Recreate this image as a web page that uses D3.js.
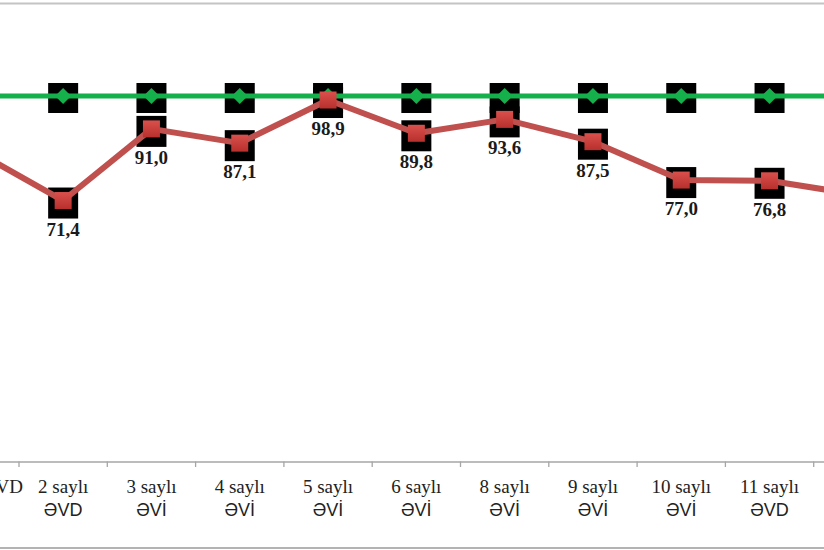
<!DOCTYPE html>
<html><head><meta charset="utf-8">
<script src="https://cdn.jsdelivr.net/npm/d3@7/dist/d3.min.js"></script>
<style>body{margin:0;background:#fff}svg{display:block}</style>
</head><body>
<svg id="c" width="824" height="550"></svg>
<script>
const categories = ["1 saylı ƏVD","2 saylı ƏVD","3 saylı ƏVİ","4 saylı ƏVİ","5 saylı ƏVİ","6 saylı ƏVİ","8 saylı ƏVİ","9 saylı ƏVİ","10 saylı ƏVİ","11 saylı ƏVD","12 saylı ƏVD"];
// tick labels: line 1 / line 2 (the last category's label lies outside the visible crop)
const tickLine1 = ["1 saylı ƏVD","2 saylı","3 saylı","4 saylı","5 saylı","6 saylı","8 saylı","9 saylı","10 saylı","11 saylı",""];
const tickLine2 = ["","ƏVD","ƏVİ","ƏVİ","ƏVİ","ƏVİ","ƏVİ","ƏVİ","ƏVİ","ƏVD",""];
const planValues = [100,100,100,100,100,100,100,100,100,100,100];
const actualValues = [85.0,71.4,91.0,87.1,98.9,89.8,93.6,87.5,77.0,76.8,73.0];
// data labels (the first and last points lie outside the visible crop, their labels are not shown)
const actualLabels = ["","71,4","91,0","87,1","98,9","89,8","93,6","87,5","77,0","76,8",""];

const svg = d3.select("#c");
const x = d3.scaleBand().domain(categories).range([-69.3, -69.3 + 88.3*categories.length]).padding(0);
const y = d3.scaleLinear().domain([0,100]).range([461.5, 96]);
const cx = d => x(d) + x.bandwidth()/2;

// frame
svg.append("line").attr("x1",0).attr("x2",824).attr("y1",3.5).attr("y2",3.5).attr("stroke","#c4c4c4").attr("stroke-width",2);
svg.append("line").attr("x1",0).attr("x2",824).attr("y1",548).attr("y2",548).attr("stroke","#9a9a9a").attr("stroke-width",1.5);

// axis
const ax = svg.append("g").attr("transform","translate(0,461.5)")
  .call(d3.axisBottom(x).tickSize(0).tickFormat(""));
ax.select(".domain").attr("stroke","#a6a6a6").attr("stroke-width",1.3);
svg.append("g").selectAll("line").data(categories.slice(1)).join("line")
  .attr("x1",d=>x(d)).attr("x2",d=>x(d)).attr("y1",461.5).attr("y2",467)
  .attr("stroke","#a6a6a6").attr("stroke-width",1.3);

const lab = svg.append("g").selectAll("text").data(categories).join("text")
  .attr("text-anchor","middle").attr("fill","#222");
lab.each(function(d,i){
  const t = d3.select(this);
  if (tickLine1[i]) t.append("tspan").attr("x",cx(d)).attr("y",493).attr("font-family","'Liberation Serif', serif").attr("font-size",19).text(tickLine1[i]);
  if (tickLine2[i]) t.append("tspan").attr("x",cx(d)).attr("y",516).attr("font-family","'Liberation Sans', Arial, sans-serif").attr("font-size",18).text(tickLine2[i]);
});

const plan = categories.map((c,i)=>({c, v:planValues[i]}));
const act = categories.map((c,i)=>({c, v:actualValues[i], l:actualLabels[i]}));

// black marker backgrounds
svg.append("g").selectAll("rect").data(plan).join("rect")
  .attr("x",d=>cx(d.c)-15).attr("y",d=>y(d.v)-13).attr("width",30).attr("height",30).attr("fill","#000");
svg.append("g").selectAll("rect").data(act).join("rect")
  .attr("x",d=>cx(d.c)-15).attr("y",d=>y(d.v)-13).attr("width",30).attr("height",31).attr("fill","#000");

const line = d3.line().x(d=>cx(d.c)).y(d=>y(d.v));
svg.append("path").datum(plan).attr("d",line).attr("fill","none").attr("stroke","#13b04c").attr("stroke-width",5);
svg.append("path").datum(act).attr("d",line).attr("fill","none").attr("stroke","#c0504d").attr("stroke-width",6).attr("stroke-linejoin","round");

const defs = svg.append("defs");
const g1 = defs.append("linearGradient").attr("id","rg").attr("x1",0).attr("y1",0).attr("x2",0).attr("y2",1);
g1.append("stop").attr("offset","0%").attr("stop-color","#d9504c");
g1.append("stop").attr("offset","100%").attr("stop-color","#b8302d");

// green diamonds
svg.append("g").selectAll("path").data(plan).join("path")
  .attr("transform",d=>`translate(${cx(d.c)},${y(d.v)})`)
  .attr("d","M0,-8L8,0L0,8L-8,0Z").attr("fill","#15b04c");
// red squares
svg.append("g").selectAll("rect").data(act).join("rect")
  .attr("x",d=>cx(d.c)-8.5).attr("y",d=>y(d.v)-8.5).attr("width",17).attr("height",17)
  .attr("fill","url(#rg)");

// value labels
svg.append("g").selectAll("text").data(act.filter(d=>d.l)).join("text")
  .attr("x",d=>cx(d.c)).attr("y",d=>y(d.v)+35)
  .attr("text-anchor","middle").attr("font-family","'Liberation Serif', serif")
  .attr("font-weight","bold").attr("font-size",19).attr("fill","#1a1a1a")
  .text(d=>d.l);
</script>
</body></html>
